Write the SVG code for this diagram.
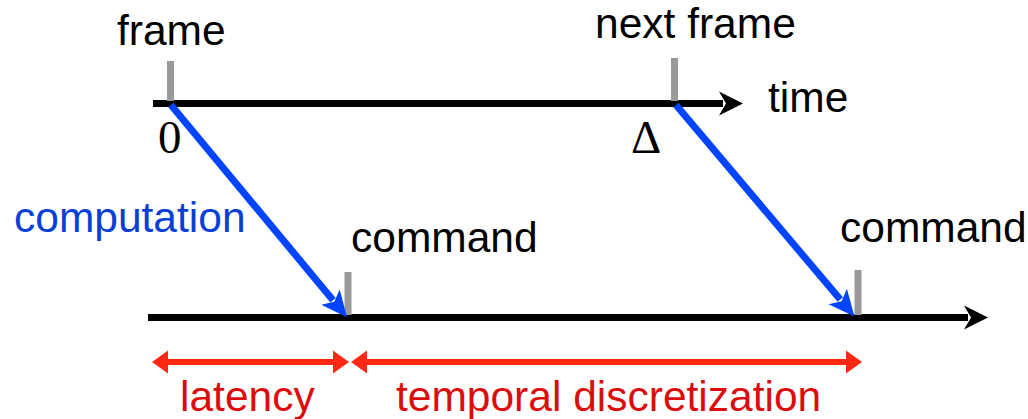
<svg xmlns="http://www.w3.org/2000/svg" width="1028" height="419" viewBox="0 0 1028 419">
  <style>
    .lbl { font-family: "Liberation Sans", Arial, sans-serif; font-size: 42.5px; }
    .blk { fill: #000; }
    .blu { fill: #0a3fd6; }
    .red { fill: #dd0c0c; }
    .math { font-family: "Liberation Serif", "Times New Roman", serif; font-size: 47px; fill: #000; }
    .axis { stroke: #000; stroke-width: 7; fill: none; }
    .tick { stroke: #999; stroke-width: 7; }
    .comp { stroke: #0044ff; stroke-width: 7; fill: none; marker-end: url(#blueHead); }
    .span { stroke: #ff2814; stroke-width: 6; fill: none; marker-start: url(#redTail); marker-end: url(#redHead); }
  </style>
  <defs>
    <marker id="blackHead" markerUnits="userSpaceOnUse" markerWidth="26" markerHeight="26" refX="4" refY="12" orient="auto" viewBox="0 0 26 24">
      <path d="M0,0 L24,12 L0,24 L7,12 Z" fill="#000"/>
    </marker>
    <marker id="blueHead" markerUnits="userSpaceOnUse" markerWidth="28" markerHeight="26" refX="4" refY="12" orient="auto" viewBox="0 0 28 24">
      <path d="M0,0 L26,12 L0,24 L6,12 Z" fill="#0044ff"/>
    </marker>
    <marker id="redHead" markerUnits="userSpaceOnUse" markerWidth="18" markerHeight="24" refX="2" refY="11.5" orient="auto" viewBox="0 0 18 23">
      <path d="M0,0 L16,11.5 L0,23 Z" fill="#ff2814"/>
    </marker>
    <marker id="redTail" markerUnits="userSpaceOnUse" markerWidth="18" markerHeight="24" refX="14" refY="11.5" orient="auto" viewBox="0 0 18 23">
      <path d="M16,0 L0,11.5 L16,23 Z" fill="#ff2814"/>
    </marker>
  </defs>

  <!-- time axes -->
  <g id="axes">
    <line class="axis" x1="153" y1="103.5" x2="723" y2="103.5" marker-end="url(#blackHead)"/>
    <line class="axis" x1="148" y1="317.5" x2="968" y2="317.5" marker-end="url(#blackHead)"/>
  </g>

  <!-- frame markers on the upper axis -->
  <g id="frame">
    <line class="tick" x1="170.5" y1="61" x2="170.5" y2="101"/>
    <text class="lbl blk" x="117" y="45">frame</text>
    <text class="math" x="158" y="153">0</text>
  </g>
  <g id="next-frame">
    <line class="tick" x1="674.5" y1="58" x2="674.5" y2="101"/>
    <text class="lbl blk" x="595" y="38">next frame</text>
    <text class="math" x="631" y="153">Δ</text>
  </g>
  <g id="time-label">
    <text class="lbl blk" x="768" y="112">time</text>
  </g>

  <!-- command markers on the lower axis -->
  <g id="command-1">
    <line class="tick" x1="348" y1="272" x2="348" y2="315"/>
    <text class="lbl blk" x="351" y="252">command</text>
  </g>
  <g id="command-2">
    <line class="tick" x1="858" y1="270" x2="858" y2="315"/>
    <text class="lbl blk" x="840" y="242">command</text>
  </g>

  <g id="computation-label">
    <text class="lbl blu" x="14" y="232">computation</text>
  </g>

  <!-- computation arrows and interval spans -->
  <g id="connectors">
    <line class="comp" x1="171" y1="105" x2="333" y2="300.2"/>
    <line class="comp" x1="676" y1="105" x2="840.3" y2="299.6"/>
    <line class="span" x1="166" y1="362" x2="335" y2="362"/>
    <line class="span" x1="365" y1="362" x2="848" y2="362"/>
  </g>

  <g id="span-labels">
    <text class="lbl red" x="180" y="411">latency</text>
    <text class="lbl red" x="396" y="411">temporal discretization</text>
  </g>
</svg>
